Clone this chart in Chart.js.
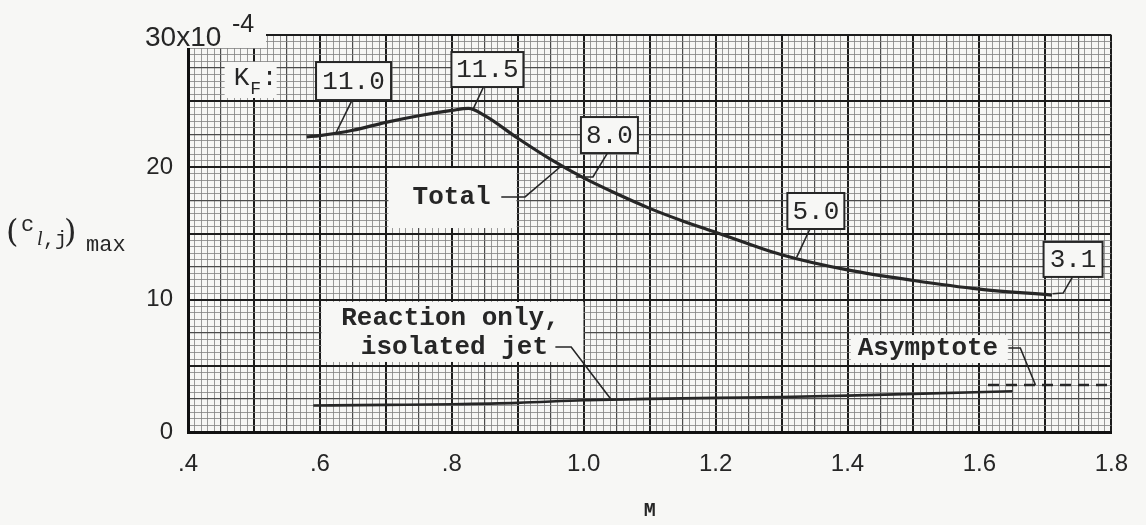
<!DOCTYPE html>
<html>
<head>
<meta charset="utf-8">
<script src="https://cdn.jsdelivr.net/npm/chart.js@4.4.1/dist/chart.umd.min.js"></script>
<style>
  html, body { margin: 0; padding: 0; background: #f7f7f5; }
  #wrap { width: 1146px; height: 525px; }
</style>
</head>
<body>
<div id="wrap"><canvas id="chart" width="1146" height="525"></canvas></div>
<script>
// values (M vs (c_l,j)max x 10^4)
const machTotal = [0.58, 0.6, 0.65, 0.7, 0.75, 0.8, 0.825, 0.85, 0.9, 0.95, 1.0, 1.05, 1.1, 1.15, 1.2, 1.3, 1.4, 1.5, 1.6, 1.71];
const clTotal = [22.3, 22.4, 22.8, 23.4, 23.9, 24.3, 24.45, 23.9, 22.2, 20.6, 19.2, 18.0, 16.9, 15.95, 15.1, 13.4, 12.25, 11.45, 10.8, 10.35];

const machReaction = [0.59, 0.7, 0.8, 0.9, 1.0, 1.1, 1.2, 1.3, 1.4, 1.5, 1.65];
const clReaction = [2.0, 2.05, 2.1, 2.2, 2.4, 2.5, 2.58, 2.65, 2.75, 2.88, 3.08];

const machAsymptote = [1.613, 1.8];
const clAsymptote = [3.55, 3.55];

const xTickLabels = [".4", ".6", ".8", "1.0", "1.2", "1.4", "1.6", "1.8"];
const yTickLabels = ["0", "10", "20"];

const kfValues = ["11.0", "11.5", "8.0", "5.0", "3.1"];

// annotation placement (data units) and leader lines
const kfBoxes = [
    { m: 0.651, c: 26.52, w: 75, h: 38 },
    { m: 0.854, c: 27.39, w: 72, h: 35 },
    { m: 1.039, c: 22.44, w: 57, h: 36 },
    { m: 1.352, c: 16.70, w: 57, h: 36 },
    { m: 1.742, c: 13.04, w: 59, h: 35 },
];
const leaders = [
    [[0.649, 25.09], [0.625, 22.67]],
    [[0.848, 26.07], [0.833, 24.48]],
    [[1.036, 21.08], [1.014, 19.27], [0.988, 19.27]],
    [[0.875, 17.76], [0.911, 17.76], [0.966, 20.10]],
    [[1.343, 15.34], [1.323, 13.22]],
    [[1.741, 11.71], [1.727, 10.50], [1.711, 10.45]],
    [[1.644, 6.35], [1.662, 6.35], [1.685, 3.55]],
    [[0.957, 6.42], [0.981, 6.42], [1.041, 2.50]],
];
// white patches on the paper behind the typed notes
const paperPatches = [
    { m: 0.495, c: 26.6, w: 52, h: 36 },
    { m: 0.801, c: 17.68, w: 128, h: 60 },
    { m: 0.801, c: 7.56, w: 262, h: 60 },
    { m: 1.524, c: 6.27, w: 157, h: 28 },
];

const PAPER = "#f7f7f5";
const INK = "#262626";
const TYPE_FONT = "26px 'Liberation Mono', 'DejaVu Sans Mono', monospace";

const toPoints = (xs, ys) => xs.map((x, i) => ({ x: x, y: ys[i] }));

const datasets = [
    {
        label: "Total",
        data: toPoints(machTotal, clTotal),
        borderColor: INK,
        borderWidth: 3.2,
        cubicInterpolationMode: "monotone",
    },
    {
        label: "Reaction only, isolated jet",
        data: toPoints(machReaction, clReaction),
        borderColor: INK,
        borderWidth: 2.6,
        cubicInterpolationMode: "monotone",
    },
    {
        label: "Asymptote",
        data: toPoints(machAsymptote, clAsymptote),
        borderColor: INK,
        borderWidth: 2.6,
        borderDash: [11, 7],
    },
];
leaders.forEach((pts) => {
    datasets.push({
        label: "leader",
        data: pts.map((p) => ({ x: p[0], y: p[1] })),
        borderColor: INK,
        borderWidth: 1.6,
        tension: 0,
    });
});

const px = (chart, m) => chart.scales.x.getPixelForValue(m);
const py = (chart, c) => chart.scales.y.getPixelForValue(c);

const paperNotes = {
    id: "paperNotes",
    beforeDatasetsDraw(chart) {
        const ctx = chart.ctx;
        ctx.save();
        ctx.fillStyle = PAPER;
        paperPatches.forEach((p) => {
            ctx.fillRect(px(chart, p.m) - p.w / 2, py(chart, p.c) - p.h / 2, p.w, p.h);
        });
        ctx.restore();
    },
    afterDatasetsDraw(chart) {
        const ctx = chart.ctx;
        ctx.save();
        ctx.fillStyle = INK;
        ctx.textAlign = "center";
        ctx.textBaseline = "middle";

        // K_F values in boxes
        kfBoxes.forEach((b, i) => {
            const cx = px(chart, b.m), cy = py(chart, b.c);
            ctx.fillStyle = PAPER;
            ctx.fillRect(cx - b.w / 2, cy - b.h / 2, b.w, b.h);
            ctx.strokeStyle = INK;
            ctx.lineWidth = 2;
            ctx.strokeRect(cx - b.w / 2, cy - b.h / 2, b.w, b.h);
            ctx.fillStyle = INK;
            ctx.font = TYPE_FONT;
            ctx.fillText(kfValues[i], cx, cy + 1);
        });

        // K_F:
        const kx = px(chart, 0.495), ky = py(chart, 26.6);
        ctx.font = TYPE_FONT;
        ctx.fillText("K", kx - 9, ky - 2);
        ctx.font = "18px 'Liberation Mono', monospace";
        ctx.fillText("F", kx + 5, ky + 9);
        ctx.font = TYPE_FONT;
        ctx.fillText(":", kx + 19, ky - 2);

        ctx.font = "bold " + TYPE_FONT;
        ctx.fillText("Total", px(chart, 0.7997), py(chart, 17.76));
        ctx.fillText("Reaction only,", px(chart, 0.798), py(chart, 8.61));
        ctx.fillText("isolated jet", px(chart, 0.804), py(chart, 6.42));
        ctx.fillText("Asymptote", px(chart, 1.522), py(chart, 6.35));
        ctx.restore();
    },
    afterDraw(chart) {
        const ctx = chart.ctx;
        const area = chart.chartArea;
        ctx.save();
        // top-left "30x10^-4" sits on a clear patch of paper
        ctx.fillStyle = PAPER;
        ctx.fillRect(area.left - 50, area.top - 22, 128, 35);
        ctx.fillStyle = INK;
        ctx.textBaseline = "middle";
        ctx.textAlign = "left";
        ctx.font = "28px 'Liberation Sans', sans-serif";
        ctx.fillText("30x10", area.left - 43, area.top + 3);
        ctx.font = "25px 'Liberation Sans', sans-serif";
        ctx.fillText("-4", area.left + 44, area.top - 10);

        // y-axis label (c_l,j) max
        const ly = (area.top + area.bottom) / 2 + 4;
        ctx.font = "32px 'DejaVu Serif', serif";
        ctx.fillText("(", 6, ly - 4);
        ctx.font = "22px 'Liberation Mono', monospace";
        ctx.fillText("c", 21, ly - 12);
        ctx.font = "italic 20px 'Liberation Serif', serif";
        ctx.fillText("l", 37, ly + 2);
        ctx.font = "20px 'Liberation Mono', monospace";
        ctx.fillText(",j", 43, ly + 2);
        ctx.font = "32px 'DejaVu Serif', serif";
        ctx.fillText(")", 64, ly - 4);
        ctx.font = "22px 'Liberation Mono', monospace";
        ctx.fillText("max", 86, ly + 8);
        ctx.restore();
    },
};

const config = {
    type: "line",
    data: { datasets: datasets },
    options: {
        responsive: false,
        animation: false,
        devicePixelRatio: 1,
        layout: { padding: { top: 35, right: 30, left: 0, bottom: 0 } },
        plugins: {
            legend: { display: false },
            tooltip: { enabled: false },
        },
        elements: {
            point: { radius: 0 },
        },
        scales: {
            x: {
                type: "linear",
                min: 0.4,
                max: 1.8,
                afterFit: (scale) => { scale.height = 93; },
                ticks: {
                    stepSize: 0.01,
                    autoSkip: false,
                    maxRotation: 0,
                    minRotation: 0,
                    padding: 18,
                    color: INK,
                    font: { family: "'Liberation Sans', sans-serif", size: 24 },
                    callback: (v) => {
                        const k = Math.round((v - 0.4) * 100);
                        return k % 20 === 0 ? xTickLabels[k / 20] : "";
                    },
                },
                grid: {
                    drawTicks: false,
                    color: (ctx) => {
                        const k = Math.round((ctx.tick.value - 0.4) * 100);
                        return k % 10 === 0 ? "#1c1c1c" : k % 5 === 0 ? "#4a4a4a" : "#808080";
                    },
                    lineWidth: (ctx) => {
                        const k = Math.round((ctx.tick.value - 0.4) * 100);
                        return k % 10 === 0 ? 2 : k % 5 === 0 ? 1.2 : 0.8;
                    },
                },
                border: { display: true, width: 3, color: "#111" },
                title: {
                    display: true,
                    text: "M",
                    color: INK,
                    font: { family: "'Liberation Mono', monospace", size: 20, weight: "bold" },
                    padding: { top: 0, bottom: 2 },
                },
            },
            y: {
                type: "linear",
                min: 0,
                max: 30,
                afterFit: (scale) => { scale.width = 188; },
                ticks: {
                    stepSize: 0.5,
                    autoSkip: false,
                    padding: 15,
                    color: INK,
                    font: { family: "'Liberation Sans', sans-serif", size: 24 },
                    callback: (v) => {
                        const k = Math.round(v * 2);
                        return k % 20 === 0 && k < 60 ? yTickLabels[k / 20] : "";
                    },
                },
                grid: {
                    drawTicks: false,
                    color: (ctx) => {
                        const k = Math.round(ctx.tick.value * 2);
                        return k % 10 === 0 ? "#1c1c1c" : k % 5 === 0 ? "#4a4a4a" : "#808080";
                    },
                    lineWidth: (ctx) => {
                        const k = Math.round(ctx.tick.value * 2);
                        return k % 10 === 0 ? 2 : k % 5 === 0 ? 1.2 : 0.8;
                    },
                },
                border: { display: true, width: 3, color: "#111" },
            },
        },
    },
    plugins: [paperNotes],
};

new Chart(document.getElementById("chart"), config);
</script>
</body>
</html>
